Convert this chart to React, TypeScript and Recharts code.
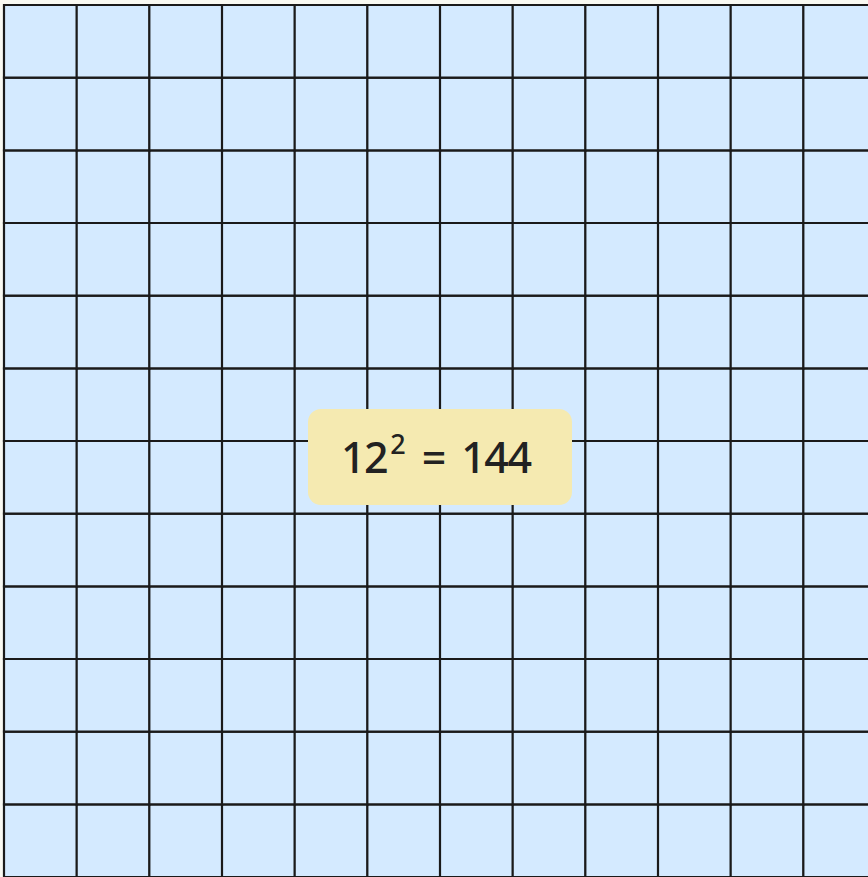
import React from "react";
import { BarChart, Bar, XAxis, YAxis } from "recharts";

const columns = ["1", "2", "3", "4", "5", "6", "7", "8", "9", "10", "11", "12"];
const rows = ["r1", "r2", "r3", "r4", "r5", "r6", "r7", "r8", "r9", "r10", "r11", "r12"];
const cellValues = [1, 1, 1, 1, 1, 1, 1, 1, 1, 1, 1, 1];
const side = 12;
const exponent = 2;
const total = 144;

const data = columns.map((c) => {
  const o: Record<string, number | string> = { col: c };
  rows.forEach((r, i) => {
    o[r] = cellValues[i];
  });
  return o;
});

export default function App() {
  return (
    <div
      style={{
        position: "fixed",
        left: 0,
        top: 0,
        width: 868,
        height: 877,
        overflow: "hidden",
        background: "#f9f9f2",
      }}
    >
      <BarChart
        width={880}
        height={880}
        data={data}
        margin={{ top: 5, right: 4, bottom: 3, left: 4 }}
        barCategoryGap={0}
        barGap={0}
      >
        <XAxis dataKey="col" hide />
        <YAxis hide domain={[0, side]} type="number" />
        {rows.map((r) => (
          <Bar
            key={r}
            dataKey={r}
            stackId="grid"
            fill="#d4eaff"
            stroke="#1a1a1a"
            strokeWidth={2.2}
            isAnimationActive={false}
          />
        ))}
      </BarChart>
      <div
        style={{
          position: "absolute",
          left: 308,
          top: 409,
          width: 264,
          height: 96,
          borderRadius: 13,
          background: "#f5eab1",
        }}
      >
        <div
          style={{
            position: "absolute",
            left: 33,
            top: 0,
            height: 96,
            display: "flex",
            alignItems: "baseline",
            whiteSpace: "nowrap",
            fontFamily: "'Noto Sans', sans-serif",
            fontSize: 43,
            fontWeight: 500,
            color: "#222222",
            lineHeight: "96px",
          }}
        >
          <span style={{ letterSpacing: -1.5 }}>{side}</span>
          <span
            style={{
              fontSize: 27,
              position: "relative",
              top: -19,
              marginLeft: 3,
            }}
          >
            {exponent}
          </span>
          <span style={{ marginLeft: 16 }}>=</span>
          <span style={{ marginLeft: 15, letterSpacing: -1.5 }}>{total}</span>
        </div>
      </div>
    </div>
  );
}
